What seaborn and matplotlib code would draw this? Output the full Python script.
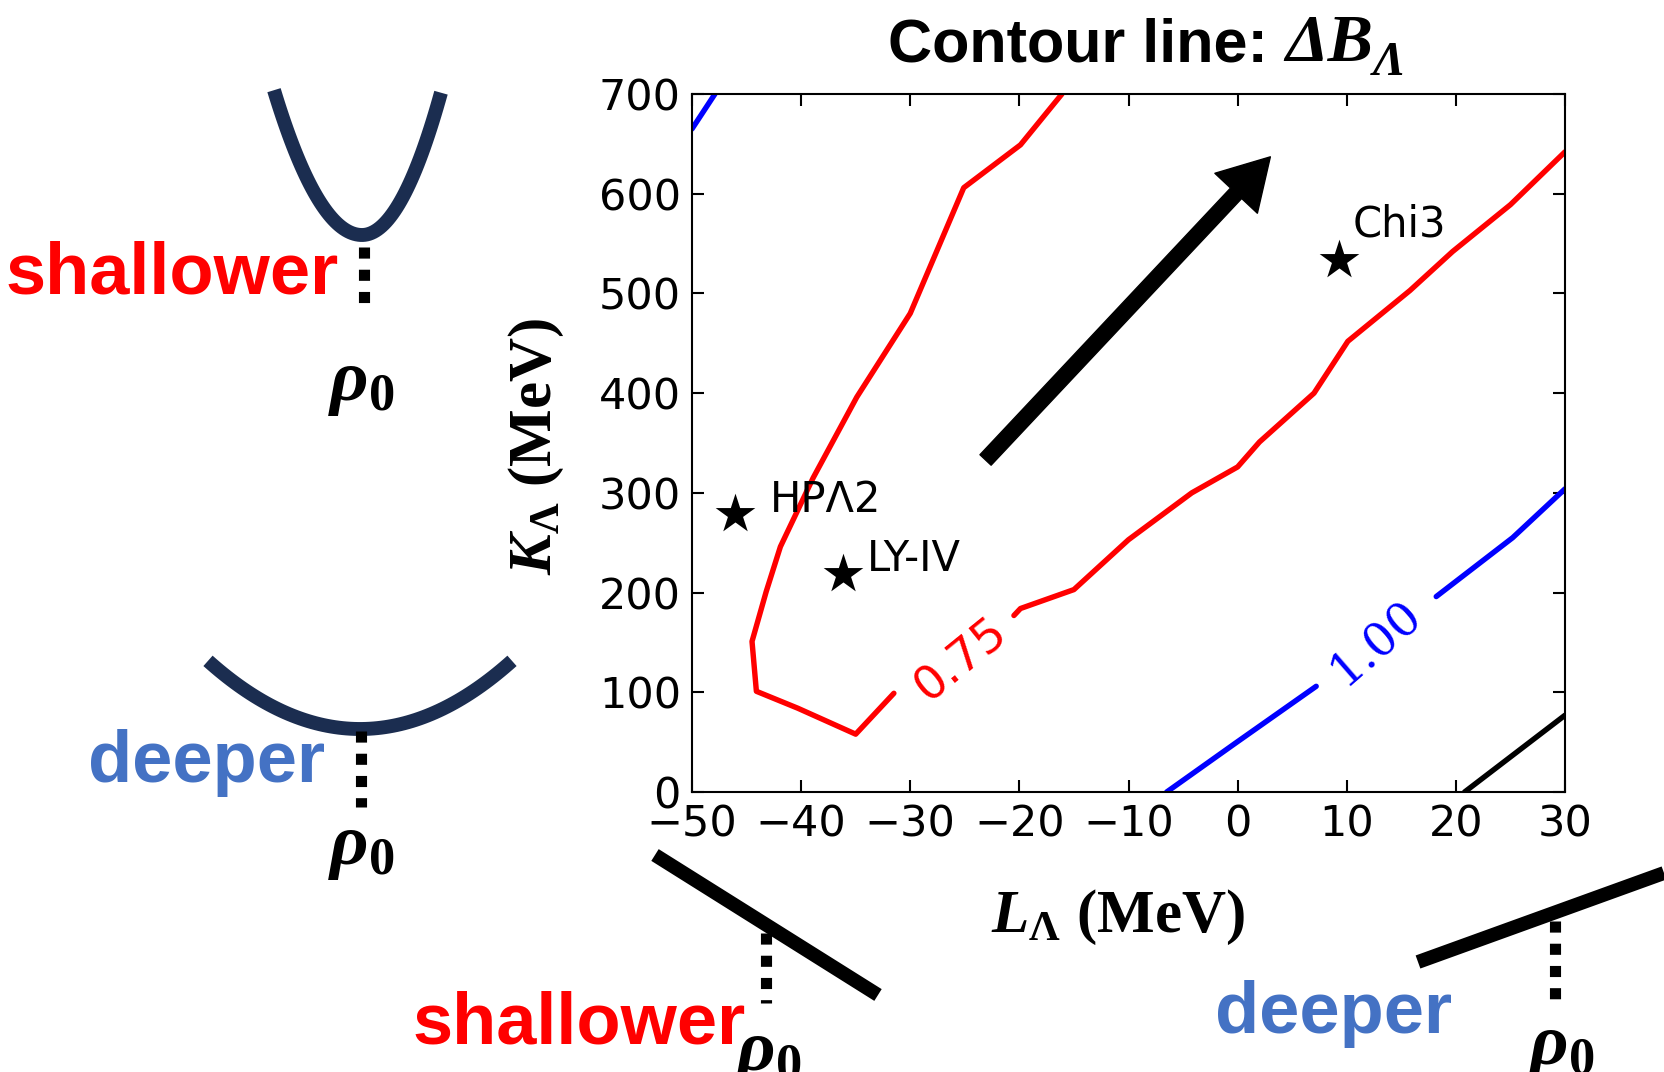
import numpy as np
import matplotlib
matplotlib.use('Agg')
import matplotlib.pyplot as plt
import seaborn as sns

# contour 0.75 (red), broken where the inline label sits
red_left_L = [-31.5, -35.0, -40.3, -44.1, -44.5, -43.2, -41.9, -38.9, -34.9, -30.0, -25.1, -19.9, -16.1]
red_left_K = [99, 58, 84, 101, 151, 201, 246, 315, 396, 480, 606, 649, 700]
red_right_L = [-20.5, -19.9, -15.0, -10.0, -4.2, 0.0, 2.0, 7.0, 10.1, 15.8, 19.7, 25.0, 30.0]
red_right_K = [177, 184, 203, 253, 300, 326, 351, 400, 452, 503, 542, 589, 642]
# contour 1.00 (blue)
blue_top_L = [-50.0, -47.9]
blue_top_K = [665, 700]
blue_low_L = [-6.5, -0.2, 7.2]
blue_low_K = [0, 49, 106]
blue_up_L = [18.2, 25.2, 30.0]
blue_up_K = [196, 255, 304]
# next contour (black)
black_L = [20.8, 30.0]
black_K = [0, 77]

# models
models = ['HPΛ2', 'LY-IV', 'Chi3']
model_L = [-46.1, -36.2, 9.3]
model_K = [279, 219, 534]

xticks = [-50, -40, -30, -20, -10, 0, 10, 20, 30]
yticks = [0, 100, 200, 300, 400, 500, 600, 700]

sns.set_theme(style='ticks')
plt.rcParams['font.family'] = ['DejaVu Sans']
plt.rcParams.update({'mathtext.fontset': 'custom',
                     'mathtext.rm': 'Liberation Serif:bold',
                     'mathtext.it': 'Liberation Serif:italic:bold',
                     'mathtext.bf': 'Liberation Serif:bold',
                     'text.color': 'black', 'axes.labelcolor': 'black',
                     'xtick.color': 'black', 'ytick.color': 'black',
                     'axes.edgecolor': 'black'})

W, H = 1664, 1072
fig = plt.figure(figsize=(W / 100, H / 100), dpi=100)

# background axes in pixel units for the schematic potentials
deco = fig.add_axes([0, 0, 1, 1])
deco.set_xlim(0, W)
deco.set_ylim(H, 0)
deco.axis('off')

ax = fig.add_axes([692 / W, 1 - 792 / H, 873 / W, 698 / H])

lw = 3.9
for xs, ys, c in [(red_left_L, red_left_K, '#ff0000'), (red_right_L, red_right_K, '#ff0000'),
                  (blue_top_L, blue_top_K, '#0000ff'), (blue_low_L, blue_low_K, '#0000ff'),
                  (blue_up_L, blue_up_K, '#0000ff'), (black_L, black_K, 'black')]:
    sns.lineplot(x=xs, y=ys, sort=False, estimator=None, color=c, lw=lw, ax=ax)

ax.text(-25.3, 133, '0.75', color='#ff0000', fontsize=34, rotation=39,
        ha='center', va='center', rotation_mode='anchor')
ax.text(12.6, 150, '1.00', color='#0000ff', fontsize=34, rotation=41,
        family='DejaVu Serif', ha='center', va='center', rotation_mode='anchor')

sns.scatterplot(x=model_L, y=model_K, marker='*', s=900, color='black',
                linewidth=0, ax=ax, zorder=5)
offsets = [(3.2, 14), (2.2, 15), (1.2, 35)]
for name, lx, ky, (dx, dy) in zip(models, model_L, model_K, offsets):
    ax.text(lx + dx, ky + dy, name, fontsize=30, ha='left', va='center')

ax.annotate('', xy=(3.0, 637), xytext=(-23.1, 333),
            arrowprops=dict(facecolor='black', edgecolor='black', width=11,
                            headwidth=42, headlength=36, shrink=0))

ax.set_xlim(-50, 30)
ax.set_ylim(0, 700)
ax.set_xticks(xticks)
ax.set_yticks(yticks)
ax.tick_params(direction='in', length=8.5, width=1.5, top=True, right=True,
               labelsize=31, pad=8, colors='black')
for s in ax.spines.values():
    s.set_linewidth(1.5)
    s.set_color('black')

ax.set_xlabel(r'$L_\Lambda$ (MeV)', fontsize=44, family='Liberation Serif', weight='bold')
ax.set_ylabel(r'$K_\Lambda$ (MeV)', fontsize=44, family='Liberation Serif', weight='bold')
ax.xaxis.set_label_coords((1118 - 692) / 873, (792 - 917) / 698)
ax.xaxis.label.set_va('center')
ax.yaxis.set_label_coords((536 - 692) / 873, (792 - 446) / 698)
ax.yaxis.label.set_va('center')

# title: sans part, then italic serif Delta B with subscript Lambda
t1 = fig.text(888 / W, 1 - 61 / H, 'Contour line: ', ha='left', va='baseline',
              fontsize=44, family='Liberation Sans', weight='bold')
t2 = fig.text(0, 0, 'ΔB', fontsize=49, family='Liberation Serif', style='italic',
              weight='bold', ha='left', va='baseline')
fig.canvas.draw()
r = fig.canvas.get_renderer()
bb = t1.get_window_extent(r)
t2.set_position((bb.x1 / W, 1 - 61 / H))
bb2 = t2.get_window_extent(r)
fig.text(bb2.x1 / W, 1 - 75 / H, 'Λ', fontsize=35, family='Liberation Serif',
         style='italic', weight='bold', ha='left', va='baseline')

# schematic potentials
navy = '#1b2d50'
px = np.linspace(274, 441, 80)
curv = np.where(px < 362, 0.0187, 0.0228)
deco.plot(px, 235 - curv * (px - 362) ** 2, color=navy, lw=10, solid_capstyle='butt')
px = np.linspace(208, 512, 80)
deco.plot(px, 729 - 0.00295 * (px - 360) ** 2, color=navy, lw=10, solid_capstyle='butt')
deco.plot([655, 878], [855, 995], color='black', lw=10, solid_capstyle='butt')
deco.plot([1418, 1664], [962, 873], color='black', lw=10, solid_capstyle='butt')

dots = dict(color='black', lw=8, linestyle=(0, (1, 1)))
deco.plot([364, 364], [247, 309], **dots)
deco.plot([361, 361], [731, 807], **dots)
deco.plot([766, 766], [933, 1003], **dots)
deco.plot([1555, 1555], [921, 1003], **dots)

for x, y in [(361, 382), (361, 845), (768, 1052), (1561, 1045)]:
    deco.text(x, y, r'$\rho_0$', fontsize=54, ha='center', va='center')

big = dict(family='Liberation Sans', weight='bold', fontsize=52, va='baseline', ha='left')
deco.text(6, 293, 'shallower', color='#ff0000', **big)
deco.text(88, 782, 'deeper', color='#4472c4', **big)
deco.text(413, 1043, 'shallower', color='#ff0000', **big)
deco.text(1215, 1033, 'deeper', color='#4472c4', **big)

fig.savefig('out.png', dpi=100)
